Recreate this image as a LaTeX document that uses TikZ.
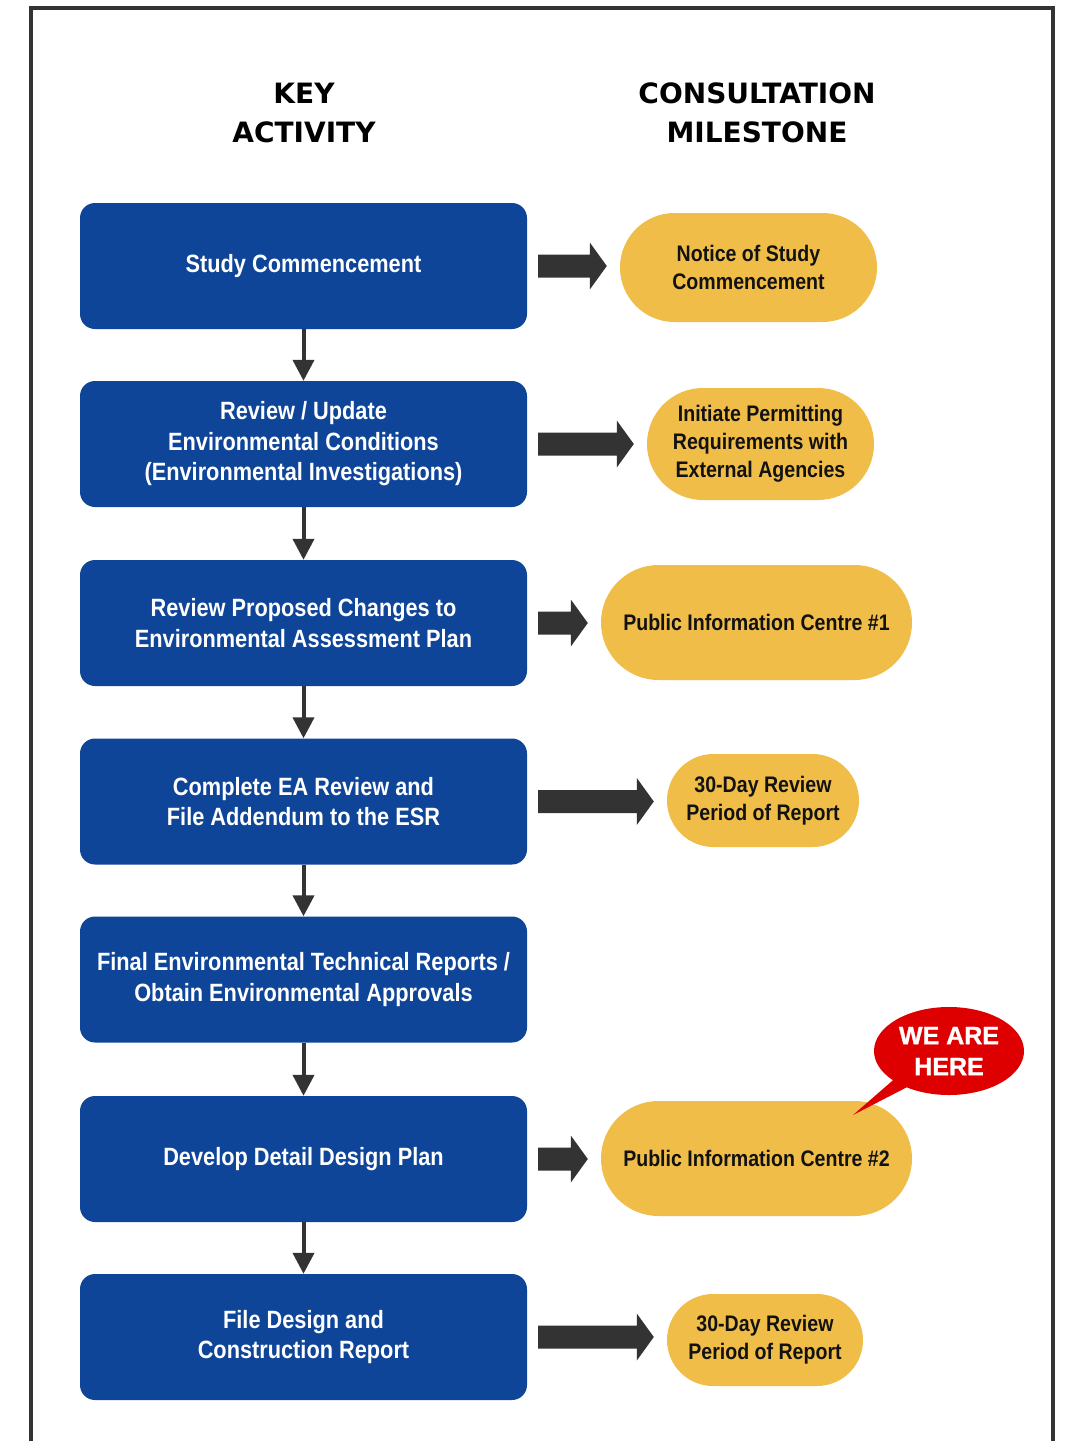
\documentclass[tikz,border=0pt]{standalone}
\usepackage{fontspec}
\setmainfont{Liberation Sans}
\newfontfamily\condfont[FakeStretch=0.87]{Liberation Sans}
\newfontfamily\headfont{DejaVu Sans}
\newfontfamily\heavyfont[FakeBold=1.2]{Liberation Sans}
\usetikzlibrary{calc,arrows.meta,shapes.misc,shapes.callouts}
\definecolor{boxblue}{RGB}{14,69,153}
\definecolor{pillyellow}{RGB}{240,190,72}
\definecolor{arrgray}{RGB}{51,51,51}
\definecolor{callred}{RGB}{222,0,0}
\definecolor{framegray}{RGB}{51,51,51}
\newcommand\blockarr[2]{\fill[arrgray] ($(#1)+(0,-11.5)$) -- ($(#2)+(-17,-11.5)$) -- ($(#2)+(-17,-23.5)$) -- (#2) -- ($(#2)+(-17,23.5)$) -- ($(#2)+(-17,11.5)$) -- ($(#1)+(0,11.5)$) -- cycle;}
\begin{document}
\begin{tikzpicture}[x=1pt,y=-1pt,
  activity/.style={fill=boxblue, rounded corners=15pt, minimum width=447pt, minimum height=126pt,
    text=white, align=center, inner sep=0pt, font=\condfont\bfseries\fontsize{25}{30.5}\selectfont},
  milestone/.style={fill=pillyellow, rounded rectangle, inner sep=0pt, text=black!93,
    align=center, font=\condfont\bfseries\fontsize{22.5}{28}\selectfont},
  header/.style={align=center, font=\headfont\bfseries\fontsize{28}{39}\selectfont},
  varrow/.style={draw=arrgray, line width=4pt, -{Triangle[length=21pt,width=21pt]}}
]
\useasboundingbox (0,0) rectangle (1068,1441);
\fill[white] (0,0) rectangle (1068,1441);
\draw[framegray, line width=4pt] (31,1441) -- (31,8) -- (1053,8) -- (1053,1441);

\node[header] (hkey) at (304,113) {KEY\\ACTIVITY};
\node[header] (hcons) at (757,113) {CONSULTATION\\MILESTONE};

\node[activity] (b1) at (303.5,266) {Study Commencement};
\node[activity] (b2) at (303.5,444) {Review / Update\\Environmental Conditions\\(Environmental Investigations)};
\node[activity] (b3) at (303.5,623) {Review Proposed Changes to\\Environmental Assessment Plan};
\node[activity] (b4) at (303.5,801.5) {Complete EA Review and\\File Addendum to the ESR};
\node[activity] (b5) at (303.5,979.5) {Final Environmental Technical Reports /\\Obtain Environmental Approvals};
\node[activity] (b6) at (303.5,1159) {Develop Detail Design Plan};
\node[activity] (b7) at (303.5,1337) {File Design and\\Construction Report};

\node[milestone, minimum width=257pt, minimum height=109pt] (y1) at (748.5,267.5) {Notice of Study\\Commencement};
\node[milestone, minimum width=227pt, minimum height=112pt] (y2) at (760.5,444) {Initiate Permitting\\Requirements with\\External Agencies};
\node[milestone, minimum width=311pt, minimum height=115pt] (y3) at (756.5,622.5) {Public Information Centre \#1};
\node[milestone, minimum width=192pt, minimum height=93pt] (y4) at (763,800.5) {30-Day Review\\Period of Report};
\node[milestone, minimum width=311pt, minimum height=115pt] (y6) at (756.5,1158.5) {Public Information Centre \#2};
\node[milestone, minimum width=196pt, minimum height=92pt] (y7) at (765,1340) {30-Day Review\\Period of Report};

\foreach \a/\b in {b1/b2,b2/b3,b3/b4,b4/b5,b5/b6,b6/b7}
  \draw[varrow] (\a.south) -- (\b.north);

\foreach \i in {1,2,3,4,6,7}{
  \coordinate (s\i) at ($(b\i.east)+(11,0)$);
  \coordinate (e\i) at ($(y\i.west |- b\i.east)+(-13,0)$);
  \blockarr{s\i}{e\i}
}

\coordinate (ptr) at (853,1115);
\node[ellipse callout, fill=callred, callout absolute pointer={(ptr)}, callout pointer arc=14,
  minimum width=150pt, minimum height=88pt, inner sep=0pt, text=white, align=center,
  font=\heavyfont\bfseries\fontsize{25}{31}\selectfont] (here) at (949,1051) {WE ARE\\HERE};
\end{tikzpicture}
\end{document}
